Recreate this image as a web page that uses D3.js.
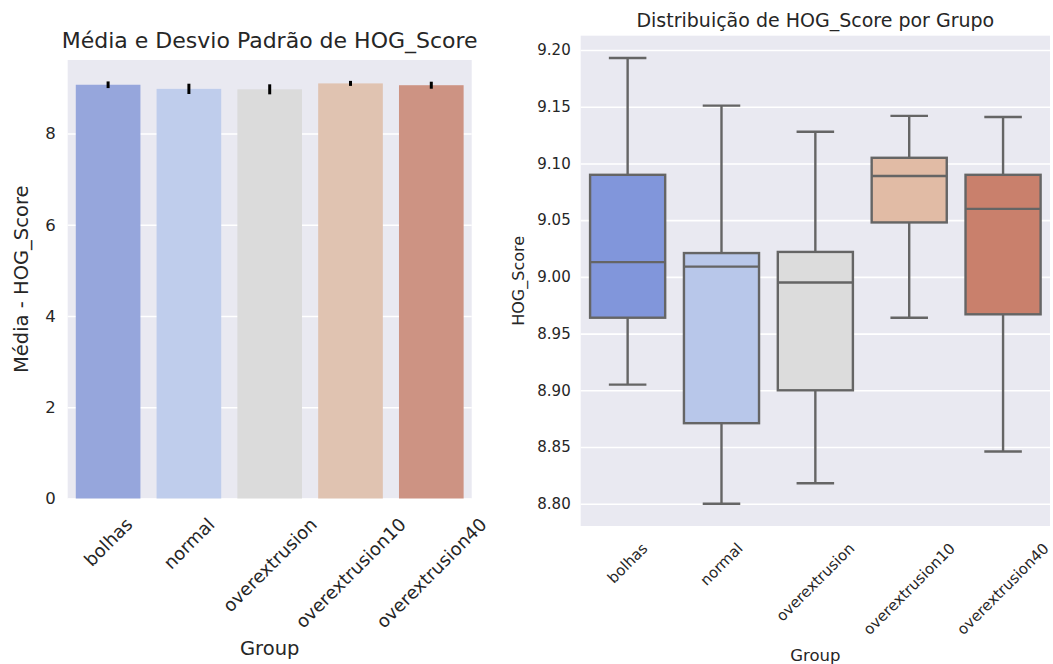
<!DOCTYPE html>
<html>
<head>
<meta charset="utf-8">
<script src="https://cdn.jsdelivr.net/npm/d3@7"></script>
<style>
  body { margin: 0; background: #ffffff; }
  text { font-family: "DejaVu Sans", sans-serif; fill: #262626; }
</style>
</head>
<body>
<svg id="chart" width="1053" height="664"></svg>
<script>
// Groups and HOG_Score summaries
const groups = ["bolhas", "normal", "overextrusion", "overextrusion10", "overextrusion40"];

// Mean and standard deviation per group (bar chart)
const meanScore = [9.07, 8.98, 8.97, 9.10, 9.06];
const sdScore = [0.073, 0.113, 0.11, 0.055, 0.077];

// Five-number summaries per group (box plot)
const whiskerLow = [8.905, 8.800, 8.818, 8.964, 8.846];
const q1 = [8.964, 8.871, 8.900, 9.048, 8.967];
const median = [9.013, 9.009, 8.995, 9.089, 9.060];
const q3 = [9.090, 9.021, 9.022, 9.105, 9.090];
const whiskerHigh = [9.193, 9.151, 9.128, 9.142, 9.141];

// Tick values
const barTicks = [0, 2, 4, 6, 8];
const boxTicks = [8.80, 8.85, 8.90, 8.95, 9.00, 9.05, 9.10, 9.15, 9.20];

// Palettes (coolwarm)
const barColors = ["#96a6dc", "#bfcdec", "#dbdbdb", "#e0c3b1", "#cd9383"];
const boxColors = ["#8196db", "#b8c7ea", "#dcdcdc", "#e1bba5", "#c9806c"];

const bg = "#e9e9f1";
const svg = d3.select("#chart");

// Rotated (45°) category labels, centred under each tick
function rotatedLabels(g, xScale, top, fontSize) {
  g.selectAll("text.xtl")
    .data(groups)
    .join("text")
    .attr("class", "xtl")
    .attr("font-size", fontSize)
    .attr("text-anchor", "middle")
    .attr("dominant-baseline", "central")
    .text(d => d)
    .each(function (d) {
      const w = this.getComputedTextLength();
      const h = fontSize * 1.1;
      const half = (w + h) / (2 * Math.SQRT2);
      const cx = xScale(d) + xScale.bandwidth() / 2;
      d3.select(this).attr("transform", `translate(${cx},${top + half}) rotate(-45)`);
    });
}

// ---------- Left: mean ± sd bars ----------
{
  const L = { left: 67.7, right: 471.7, top: 60, bottom: 498.5 };
  const x = d3.scaleBand().domain(groups).range([L.left, L.right])
    .paddingInner(0.2).paddingOuter(0.1);
  const yMax = d3.max(meanScore.map((m, i) => m + sdScore[i])) * 1.05;
  const y = d3.scaleLinear().domain([0, yMax]).range([L.bottom, L.top]);

  const g = svg.append("g");
  g.append("rect").attr("x", L.left).attr("y", L.top)
    .attr("width", L.right - L.left).attr("height", L.bottom - L.top).attr("fill", bg);

  // grid
  const grid = g.append("g").attr("transform", `translate(${L.left},0)`)
    .call(d3.axisLeft(y).tickValues(barTicks).tickSize(-(L.right - L.left)).tickFormat(""));
  grid.select(".domain").remove();
  grid.selectAll("line").attr("stroke", "#ffffff").attr("stroke-width", 1.6);

  // y tick labels
  const yAx = g.append("g").attr("transform", `translate(${L.left},0)`)
    .call(d3.axisLeft(y).tickValues(barTicks).tickSize(0).tickPadding(12).tickFormat(d3.format("d")));
  yAx.select(".domain").remove();
  yAx.selectAll("text").attr("font-size", 16.5).attr("fill", "#262626")
    .attr("font-family", "DejaVu Sans");

  // bars
  g.selectAll("rect.bar").data(groups).join("rect").attr("class", "bar")
    .attr("x", d => x(d)).attr("width", x.bandwidth())
    .attr("y", (d, i) => y(meanScore[i]))
    .attr("height", (d, i) => y(0) - y(meanScore[i]))
    .attr("fill", (d, i) => barColors[i]);

  // error bars
  g.selectAll("line.err").data(groups).join("line").attr("class", "err")
    .attr("x1", d => x(d) + x.bandwidth() / 2).attr("x2", d => x(d) + x.bandwidth() / 2)
    .attr("y1", (d, i) => y(meanScore[i] - sdScore[i]))
    .attr("y2", (d, i) => y(meanScore[i] + sdScore[i]))
    .attr("stroke", "#000000").attr("stroke-width", 3);

  rotatedLabels(g, x, 514, 18);

  g.append("text").attr("x", (L.left + L.right) / 2).attr("y", 48)
    .attr("text-anchor", "middle").attr("font-size", 22)
    .text("Média e Desvio Padrão de HOG_Score");
  g.append("text").attr("transform", `translate(21,${(L.top + L.bottom) / 2}) rotate(-90)`)
    .attr("text-anchor", "middle").attr("dominant-baseline", "central").attr("font-size", 19.5)
    .text("Média - HOG_Score");
  g.append("text").attr("x", (L.left + L.right) / 2).attr("y", 655)
    .attr("text-anchor", "middle").attr("font-size", 19.5).text("Group");
}

// ---------- Right: box plot ----------
{
  const R = { left: 580.7, right: 1050, top: 35.7, bottom: 526 };
  const x = d3.scaleBand().domain(groups).range([R.left, R.right])
    .paddingInner(0.2).paddingOuter(0.1);
  const lo = d3.min(whiskerLow), hi = d3.max(whiskerHigh);
  const m = (hi - lo) * 0.05;
  const y = d3.scaleLinear().domain([lo - m, hi + m]).range([R.bottom, R.top]);

  const g = svg.append("g");
  g.append("rect").attr("x", R.left).attr("y", R.top)
    .attr("width", R.right - R.left).attr("height", R.bottom - R.top).attr("fill", bg);

  const grid = g.append("g").attr("transform", `translate(${R.left},0)`)
    .call(d3.axisLeft(y).tickValues(boxTicks).tickSize(-(R.right - R.left)).tickFormat(""));
  grid.select(".domain").remove();
  grid.selectAll("line").attr("stroke", "#ffffff").attr("stroke-width", 1.6);

  const yAx = g.append("g").attr("transform", `translate(${R.left},0)`)
    .call(d3.axisLeft(y).tickValues(boxTicks).tickSize(0).tickPadding(10).tickFormat(d3.format(".2f")));
  yAx.select(".domain").remove();
  yAx.selectAll("text").attr("font-size", 15).attr("fill", "#262626")
    .attr("font-family", "DejaVu Sans");

  const stroke = "#656565", sw = 2.4;
  const boxes = g.selectAll("g.box").data(groups).join("g").attr("class", "box");
  boxes.each(function (d, i) {
    const bg2 = d3.select(this);
    const x0 = x(d), bw = x.bandwidth(), cx = x0 + bw / 2;
    // whiskers
    bg2.append("line").attr("x1", cx).attr("x2", cx)
      .attr("y1", y(q3[i])).attr("y2", y(whiskerHigh[i]))
      .attr("stroke", stroke).attr("stroke-width", sw);
    bg2.append("line").attr("x1", cx).attr("x2", cx)
      .attr("y1", y(q1[i])).attr("y2", y(whiskerLow[i]))
      .attr("stroke", stroke).attr("stroke-width", sw);
    // caps
    [whiskerHigh[i], whiskerLow[i]].forEach(v => {
      bg2.append("line").attr("x1", cx - bw / 4).attr("x2", cx + bw / 4)
        .attr("y1", y(v)).attr("y2", y(v))
        .attr("stroke", stroke).attr("stroke-width", sw);
    });
    // box
    bg2.append("rect").attr("x", x0).attr("width", bw)
      .attr("y", y(q3[i])).attr("height", y(q1[i]) - y(q3[i]))
      .attr("fill", boxColors[i]).attr("stroke", stroke).attr("stroke-width", sw);
    // median
    bg2.append("line").attr("x1", x0).attr("x2", x0 + bw)
      .attr("y1", y(median[i])).attr("y2", y(median[i]))
      .attr("stroke", stroke).attr("stroke-width", sw);
  });

  rotatedLabels(g, x, 540, 15);

  g.append("text").attr("x", (R.left + R.right) / 2).attr("y", 27)
    .attr("text-anchor", "middle").attr("font-size", 19)
    .text("Distribuição de HOG_Score por Grupo");
  g.append("text").attr("transform", `translate(518,${(R.top + R.bottom) / 2}) rotate(-90)`)
    .attr("text-anchor", "middle").attr("dominant-baseline", "central").attr("font-size", 16)
    .text("HOG_Score");
  g.append("text").attr("x", (R.left + R.right) / 2).attr("y", 661)
    .attr("text-anchor", "middle").attr("font-size", 16.5).text("Group");
}
</script>
</body>
</html>
